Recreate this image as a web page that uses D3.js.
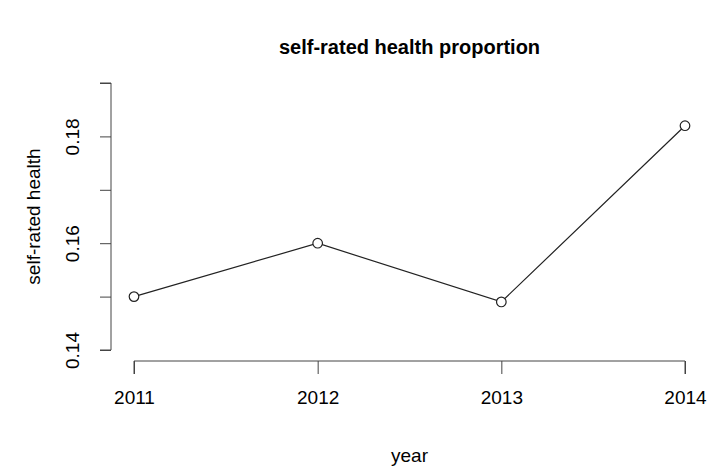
<!DOCTYPE html>
<html>
<head>
<meta charset="utf-8">
<script src="https://cdn.jsdelivr.net/npm/d3@7"></script>
<style>
  body { margin: 0; background: #fff; }
  svg text { font-family: "Liberation Sans", Arial, sans-serif; fill: #000; }
</style>
</head>
<body>
<div class="chart"></div>
<script>
// data
const years = [2011, 2012, 2013, 2014];
const health = [0.150, 0.160, 0.149, 0.182];
const yTicks = [0.14, 0.15, 0.16, 0.17, 0.18, 0.19];
const yLabels = [0.14, 0.16, 0.18];

const W = 709, H = 470;
const margin = { top: 83, right: 24, bottom: 109, left: 134 };

const svg = d3.select(".chart").append("svg")
  .attr("width", W)
  .attr("height", H);

const x = d3.scaleLinear()
  .domain([2011, 2014])
  .range([margin.left, W - margin.right]);
const y = d3.scaleLinear()
  .domain([0.14, 0.19])
  .range([350, margin.top]);

// x axis
const xAxis = d3.axisBottom(x)
  .tickValues(years)
  .tickFormat(d3.format("d"))
  .tickSize(13)
  .tickPadding(17);
svg.append("g")
  .attr("transform", `translate(0, 361)`)
  .call(xAxis)
  .call(g => g.select(".domain").attr("d", `M${x(2011)},13V0H${x(2014)}V13`).attr("stroke", "#444"))
  .call(g => g.selectAll("line").attr("stroke", "#444"))
  .selectAll("text")
  .style("font-size", "19px");

// y axis
const yAxis = d3.axisLeft(y)
  .tickValues(yTicks)
  .tickFormat(d => yLabels.some(v => Math.abs(v - d) < 1e-9) ? d3.format(".2f")(d) : "")
  .tickSize(11)
  .tickPadding(14);
const gy = svg.append("g")
  .attr("transform", `translate(111, 0)`)
  .call(yAxis);
gy.select(".domain").attr("d", `M-11,${y(0.14)}H0V${y(0.19)}H-11`).attr("stroke", "#444");
gy.selectAll("line").attr("stroke", "#444");
gy.selectAll("text")
  .style("font-size", "19px")
  .attr("text-anchor", "middle")
  .attr("x", 0)
  .attr("y", 0)
  .attr("dy", 0)
  .attr("transform", "translate(-32, 0) rotate(-90)");

// line and points
const line = d3.line()
  .x((d, i) => x(years[i]))
  .y(d => y(d));
svg.append("path")
  .datum(health)
  .attr("d", line)
  .attr("fill", "none")
  .attr("stroke", "#222")
  .attr("stroke-width", 1.2);
svg.selectAll("circle")
  .data(health)
  .enter()
  .append("circle")
  .attr("cx", (d, i) => x(years[i]))
  .attr("cy", d => y(d))
  .attr("r", 4.8)
  .attr("fill", "#fff")
  .attr("stroke", "#222")
  .attr("stroke-width", 1.2);

// titles
svg.append("text")
  .attr("x", (x(2011) + x(2014)) / 2)
  .attr("y", 54)
  .attr("text-anchor", "middle")
  .style("font-size", "20px")
  .style("font-weight", "bold")
  .text("self-rated health proportion");
svg.append("text")
  .attr("x", (x(2011) + x(2014)) / 2)
  .attr("y", 462)
  .attr("text-anchor", "middle")
  .style("font-size", "19px")
  .text("year");
svg.append("text")
  .attr("transform", `translate(40, ${(y(0.14) + y(0.19)) / 2}) rotate(-90)`)
  .attr("text-anchor", "middle")
  .style("font-size", "19px")
  .text("self-rated health");
</script>
</body>
</html>
